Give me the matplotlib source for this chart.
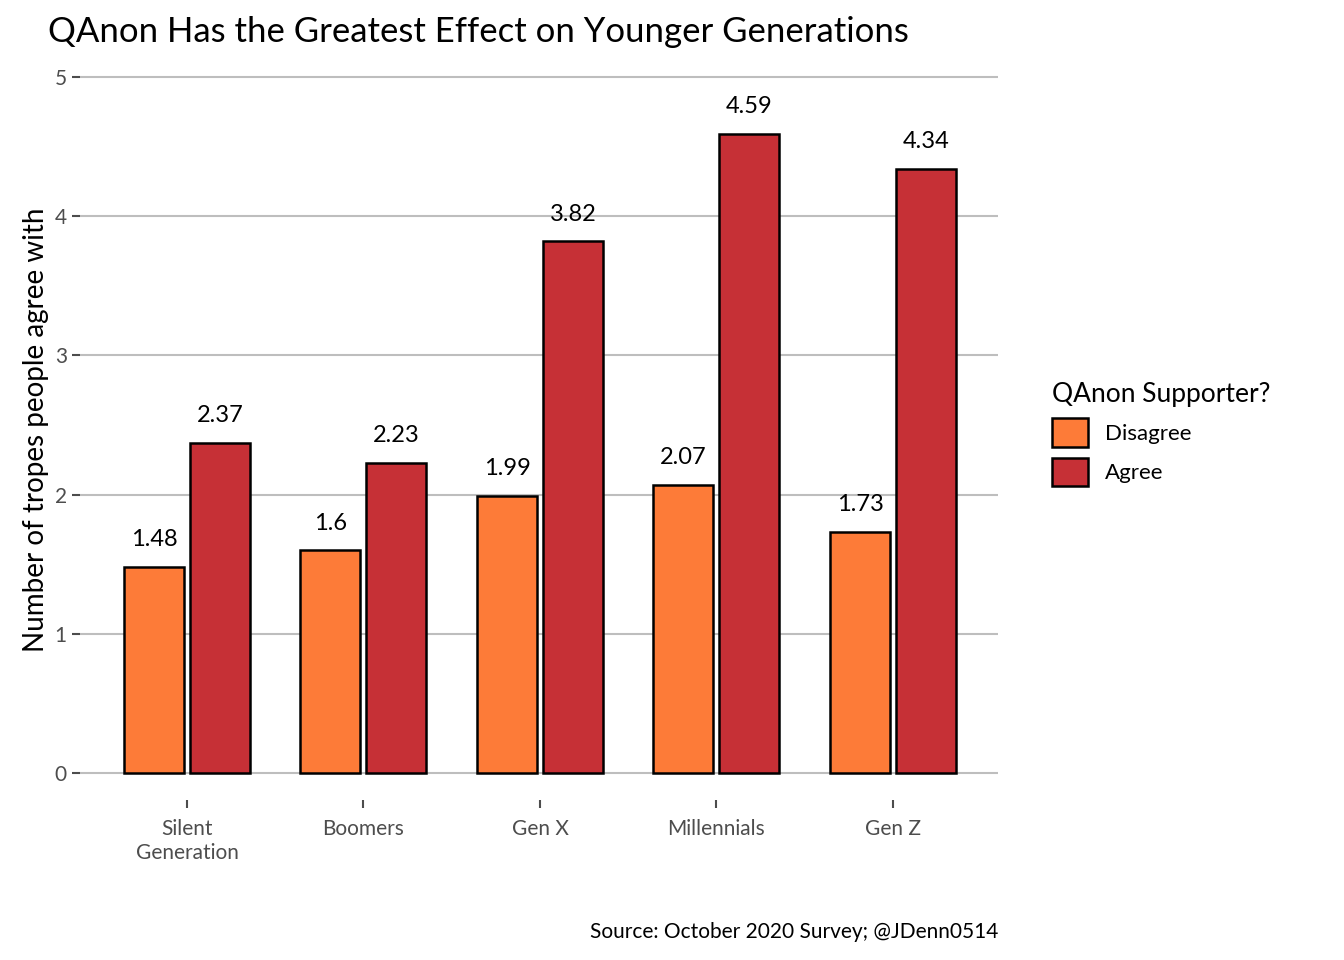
import matplotlib.pyplot as plt
from matplotlib.patches import Patch
import numpy as np

plt.rcParams['font.family'] = ['Lato', 'DejaVu Sans']

generations = ["Silent\nGeneration", "Boomers", "Gen X", "Millennials", "Gen Z"]
disagree = [1.48, 1.6, 1.99, 2.07, 1.73]
agree = [2.37, 2.23, 3.82, 4.59, 4.34]

c_dis = "#FD7B38"
c_agr = "#C63036"

fig = plt.figure(figsize=(13.44, 9.6), dpi=100)
ax = fig.add_axes([80 / 1344, 160 / 960, 918 / 1344, 740 / 960])

x = np.arange(len(generations))
w = 0.34
off = 0.187
ax.bar(x - off, disagree, w, color=c_dis, edgecolor="black", linewidth=1.8, zorder=3)
ax.bar(x + off, agree, w, color=c_agr, edgecolor="black", linewidth=1.8, zorder=3)
for xi, d, a in zip(x, disagree, agree):
    ax.text(xi - off, d + 0.12, f"{d:g}", ha="center", va="bottom", fontsize=17)
    ax.text(xi + off, a + 0.12, f"{a:g}", ha="center", va="bottom", fontsize=17)

ax.set_xlim(-0.606, 4.595)
ax.set_ylim(-0.194, 5.122)
ax.set_yticks(range(6))
ax.set_xticks(x)
ax.set_xticklabels(generations, fontsize=15, color="#4D4D4D")
ax.tick_params(axis="y", labelsize=15, labelcolor="#4D4D4D", length=6, color="#4D4D4D", width=1.5)
ax.tick_params(axis="x", length=6, color="#4D4D4D", width=1.5, pad=8)
ax.grid(axis="y", color="#BEBEBE", linewidth=1.5, zorder=0)
for s in ax.spines.values():
    s.set_visible(False)
ax.set_ylabel("Number of tropes people agree with", fontsize=20)

fig.text(48 / 1344, 1 - 32 / 960, "QAnon Has the Greatest Effect on Younger Generations",
         fontsize=25, va="center")
fig.text(998 / 1344, 1 - 932 / 960, "Source: October 2020 Survey; @JDenn0514",
         fontsize=15, ha="right", va="center")

handles = [Patch(facecolor=c_dis, edgecolor="black", linewidth=1.8, label="Disagree"),
           Patch(facecolor=c_agr, edgecolor="black", linewidth=1.8, label="Agree")]
leg = fig.legend(handles=handles, title="QAnon Supporter?", loc="upper left",
                 bbox_to_anchor=(1032 / 1344, 1 - 362 / 960), frameon=False,
                 fontsize=16, title_fontsize=19, handlelength=1.6, handleheight=1.6,
                 alignment="left", labelspacing=0.5)

fig.savefig("out.png", dpi=100)
